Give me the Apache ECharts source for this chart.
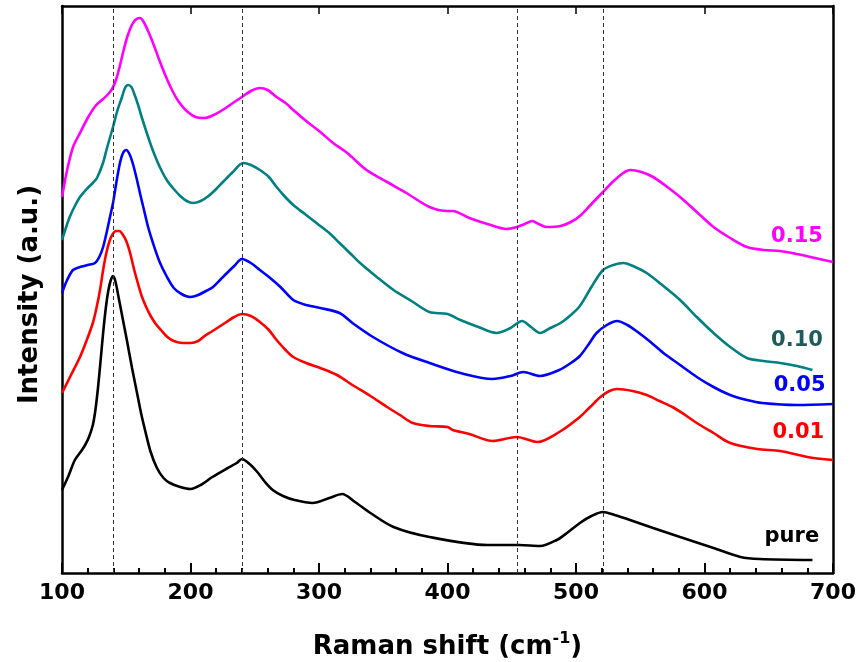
<!DOCTYPE html>
<html>
<head>
<meta charset="utf-8">
<script src="https://cdn.jsdelivr.net/npm/echarts@6/dist/echarts.min.js"></script>
<style>
html,body{margin:0;padding:0;background:#fff;}
#c{width:863px;height:662px;}
</style>
</head>
<body>
<div id="c"></div>
<script>
// Raman shift (cm-1) and relative intensity (a.u., offset stacked)
const shiftPure = [100,105,110,115,118,121,124,126,128,130,132,134,136,138,139.7,141.5,144,147,150.6,154.5,158.4,161.5,164.6,169,173.9,179,184,192,200,208,217,229,236,240,246,252,258,264,272,281,295,308,318,328,340,358,386,431,456,472,485,493,503,512,521,530,542,560,581,607,628,643,684];
const intPure   = [83,97,113,122,128,136,148,163,185,212,240,264,282,293,297,292,276,256,232,205,180,160,143,121,105,95,90,86,84,88,96,105,110,114,109,101,91,83,77,73,70,75,79,71,60,46,36,28,28,27,33,40,50,57,61,58,53,45,36,25,16,14,13];

const shift001 = [100,107,114,119,124,127,129.6,132,134.5,137,139.5,142,144.5,147,150,153,156,159,162,165.5,169,173,177,182,187,194,200,206,211,216,222,228,234,240,247,254,261,267,274,280,290,301,314,326,340,353,363,373,386,400,404,417,435,454,470,487,503,511,519,526,532,544,555,565,575,585,594,607,620,641,659,680,700];
const int001   = [180,198,216,232,250,266,283,303,320,332,339,342,342,339,332,320,304,290,277,266,257,249,243,236,232,230,230,232,237,241,246,251,256,259,257,251,243,233,223,216,210,205,198,188,177,166,158,150,147,146,143,139,132,136,131,141,156,166,176,182,184,182,178,172,166,158,150,140,130,124,122,116,113];

const shift005 = [100,104,108.6,114,120,125.7,129,132,135,137.5,139.7,142.5,145.1,147.5,150,152.5,155,158,161,164,167,170.8,176,181.7,187,193,200,206,212,217.5,223,228.4,234,240,247,254,262,270,280,290,301,316,326,342,365,386,410,435,449,459,472,487,496,503,510,516,524,532,540,548,558,568,581,594,607,620,633,645,672,700];
const int005   = [280,293,303,306,308,310,316,326,342,357,370,392,410,420,423,419,410,395,378,362,346,330,311,296,285,279,276,278,282,286,293,300,307,314,310,303,295,286,273,268,265,260,250,236,220,210,200,194,197,201,197,203,210,217,229,240,248,252,248,241,231,220,208,196,186,178,173,170,168,169];

const shift010 = [100,103,106,110,114,120,124,127.2,131.9,135,139.7,143,146.7,149,151.4,154,156,159,162,166,170,174,178,182,187,192,197,202,208,214,220,226,233,241,247,254,261,267,273,280,290,299,308,316,324,332,345,358,372,386,400,410,424,438,449,458,465,472,480,488,496,503,512,521,529,537,546,555,568,581,594,607,620,633,646,659,672,684];
const int010   = [333,345,356,367,376,385,390,395,410,425,446,462,476,485,488,486,480,469,456,440,425,412,401,392,384,377,372,370,372,377,384,392,401,410,408,403,396,386,377,368,358,349,340,330,320,310,296,283,272,261,259,253,246,240,245,252,246,240,245,250,258,267,286,303,308,310,306,300,287,273,256,240,226,215,212,210,207,203];

const shift015 = [100,104,108.6,114,120,126,132,136,139,142,145,148,151,154,157,160.7,164,168,172,176,181,186,191,197,204,211,218,225,233,240,247,254,260,267,274,280,290,301,311,322,337,353,368,386,400,404,417,431,446,454,460,466,471,477,488,496,503,512,521,531,542,551,560,570,581,594,607,620,633,646,659,672,686,700];
const int015   = [376,403,426,440,455,467,474,479,484,493,507,523,537,547,553,555,550,539,526,512,496,482,471,462,456,455,458,463,470,476,482,485,483,476,470,463,452,441,430,420,403,391,380,366,362,362,355,349,344,346,349,352,349,346,347,351,357,369,381,394,403,401,396,387,376,361,346,335,326,323,322,319,315,311];

const refLines = [140, 240, 454, 521];
const xTicks = [100, 200, 300, 400, 500, 600, 700];

const seriesNames  = ['pure', '0.01', '0.05', '0.10', '0.15'];
const seriesShift  = [shiftPure, shift001, shift005, shift010, shift015];
const seriesInt    = [intPure, int001, int005, int010, int015];
const lineColors   = ['#000000', '#ff0000', '#0000ff', '#008080', '#ff00ff'];
const labelColors  = ['#000000', '#ff0000', '#0000ff', '#1d5c5a', '#ff00ff'];
const labelPos     = [[668, 36], [673, 140], [674, 187], [672, 232], [672, 336]];

const FONT = 'DejaVu Sans';

const series = seriesNames.map((n, i) => ({
  name: n,
  type: 'line',
  data: seriesShift[i].map((x, k) => [x, seriesInt[i][k]]),
  showSymbol: false,
  smooth: 0.3,
  lineStyle: { color: lineColors[i], width: 2.6 },
  itemStyle: { color: lineColors[i] },
  z: 3,
  markPoint: {
    silent: true,
    symbol: 'circle',
    symbolSize: 0,
    data: [{ coord: labelPos[i], value: n }],
    label: {
      show: true, position: 'inside', formatter: n,
      color: labelColors[i], fontFamily: FONT, fontWeight: 'bold', fontSize: 21
    }
  }
}));

series.push({
  type: 'line',
  data: [],
  markLine: {
    silent: true,
    symbol: 'none',
    label: { show: false },
    lineStyle: { color: '#333', type: [4, 3], width: 1 },
    data: refLines.map(v => ({ xAxis: v }))
  }
});

const chart = echarts.init(document.getElementById('c'), null, { renderer: 'canvas' });
chart.setOption({
  animation: false,
  backgroundColor: '#ffffff',
  grid: { left: 62, right: 30, top: 6, bottom: 89, outerBoundsMode: 'none', containLabel: false },
  xAxis: [{
    type: 'value', min: 100, max: 700, interval: 100,
    axisLine: { show: true, onZero: false, lineStyle: { color: '#000', width: 2.5 } },
    axisTick: { show: true, inside: true, length: 10, lineStyle: { color: '#000', width: 2 } },
    minorTick: { show: true, splitNumber: 5, length: 5, lineStyle: { color: '#000', width: 2 } },
    splitLine: { show: false },
    axisLabel: {
      color: '#000', fontFamily: FONT, fontWeight: 'bold', fontSize: 22, margin: 9,
      formatter: v => (xTicks.indexOf(v) >= 0 ? String(v) : '')
    },
    name: '{a|Raman shift (cm}{s|-1}{a|)}',
    nameLocation: 'middle',
    nameGap: 58,
    nameTextStyle: {
      rich: {
        a: { fontFamily: FONT, fontWeight: 'bold', fontSize: 26, color: '#000', lineHeight: 32 },
        s: { fontFamily: FONT, fontWeight: 'bold', fontSize: 16, color: '#000', verticalAlign: 'top', lineHeight: 32 }
      }
    }
  }, {
    type: 'value', min: 100, max: 700, interval: 100, position: 'top',
    axisLine: { show: true, onZero: false, lineStyle: { color: '#000', width: 2.5 } },
    axisTick: { show: true, inside: true, length: 8, lineStyle: { color: '#000', width: 1.5 } },
    axisLabel: { show: false },
    splitLine: { show: false }
  }],
  yAxis: [{
    type: 'value', min: 0, max: 567,
    axisLine: { show: true, onZero: false, lineStyle: { color: '#000', width: 2.5 } },
    axisTick: { show: false },
    axisLabel: { show: false },
    splitLine: { show: false },
    name: 'Intensity (a.u.)',
    nameLocation: 'middle',
    nameGap: 19,
    nameTextStyle: { fontFamily: FONT, fontWeight: 'bold', fontSize: 26, color: '#000', padding: [0, 10, 0, 0] }
  }, {
    type: 'value', min: 0, max: 567, position: 'right',
    axisLine: { show: true, onZero: false, lineStyle: { color: '#000', width: 2.5 } },
    axisTick: { show: false },
    axisLabel: { show: false },
    splitLine: { show: false }
  }],
  series: series
});
</script>
</body>
</html>
